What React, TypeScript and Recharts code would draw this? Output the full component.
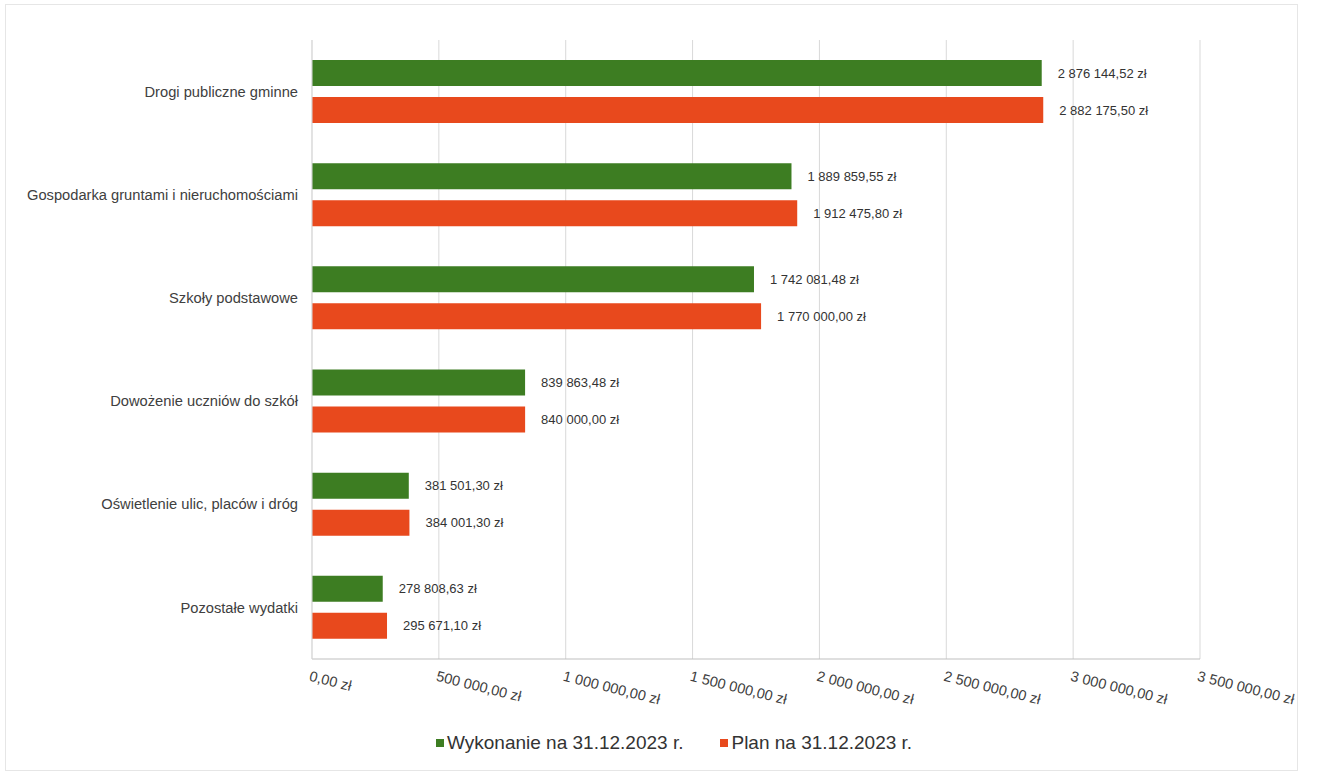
import React from 'react';
import { BarChart, Bar, XAxis, YAxis, CartesianGrid, LabelList } from 'recharts';

const categories = [
  'Drogi publiczne gminne',
  'Gospodarka gruntami i nieruchomościami',
  'Szkoły podstawowe',
  'Dowożenie uczniów do szkół',
  'Oświetlenie ulic, placów i dróg',
  'Pozostałe wydatki',
];
const wykonanie = [2876144.52, 1889859.55, 1742081.48, 839863.48, 381501.3, 278808.63];
const plan = [2882175.5, 1912475.8, 1770000.0, 840000.0, 384001.3, 295671.1];
const xTicks = [0, 500000, 1000000, 1500000, 2000000, 2500000, 3000000, 3500000];
const seriesNames = ['Wykonanie na 31.12.2023 r.', 'Plan na 31.12.2023 r.'];

const GREEN = '#3d7d22';
const RED = '#e8491d';
const FONT = '"Liberation Sans", Arial, sans-serif';

const data = categories.map((name, i) => ({ name, wykonanie: wykonanie[i], plan: plan[i] }));

function fmt(v: number): string {
  const fixed = Math.abs(v).toFixed(2);
  const [intPart, dec] = fixed.split('.');
  const withSep = intPart.replace(/\B(?=(\d{3})+(?!\d))/g, ' ');
  return `${withSep},${dec} zł`;
}

const XTick = (props: any) => {
  const { x, y, payload } = props;
  return (
    <g transform={`translate(${x},${y})`}>
      <text
        x={0}
        y={0}
        dy={14}
        textAnchor="start"
        transform="rotate(14)"
        fill="#404040"
        fontSize={14.5}
        fontFamily={FONT}
      >
        {fmt(payload.value)}
      </text>
    </g>
  );
};

export default function App() {
  return (
    <div style={{ position: 'absolute', left: 0, top: 0, width: 1317, height: 775, background: '#fff' }}>
      <div
        style={{
          position: 'absolute',
          left: 5,
          top: 4,
          width: 1291,
          height: 765,
          border: '1px solid #e6e6e6',
        }}
      />
      <BarChart
        width={1317}
        height={775}
        data={data}
        layout="vertical"
        margin={{ top: 40, right: 117, left: 0, bottom: 56 }}
        barSize={26}
        barGap={11}
      >
        <CartesianGrid horizontal={false} vertical={true} stroke="#d9d9d9" />
        <XAxis
          type="number"
          domain={[0, 3500000]}
          ticks={xTicks}
          height={60}
          tick={<XTick />}
          tickLine={false}
          axisLine={{ stroke: '#bfbfbf' }}
          interval={0}
        />
        <YAxis
          type="category"
          dataKey="name"
          width={312}
          tickLine={false}
          axisLine={{ stroke: '#d9d9d9' }}
          tickSize={6}
          tickMargin={8}
          tick={{ fill: '#404040', fontSize: 14.7, fontFamily: FONT }}
          interval={0}
        />
        <Bar dataKey="wykonanie" name={seriesNames[0]} fill={GREEN} isAnimationActive={false}>
          <LabelList
            dataKey="wykonanie"
            position="right"
            offset={16}
            formatter={(v: any) => fmt(Number(v))}
            style={{ fill: '#333', fontSize: 13, fontFamily: FONT }}
          />
        </Bar>
        <Bar dataKey="plan" name={seriesNames[1]} fill={RED} isAnimationActive={false}>
          <LabelList
            dataKey="plan"
            position="right"
            offset={16}
            formatter={(v: any) => fmt(Number(v))}
            style={{ fill: '#333', fontSize: 13, fontFamily: FONT }}
          />
        </Bar>
      </BarChart>
      <div
        style={{
          position: 'absolute',
          left: 436,
          top: 732,
          display: 'flex',
          alignItems: 'center',
          fontFamily: FONT,
          fontSize: 19,
          color: '#333',
          whiteSpace: 'nowrap',
        }}
      >
        <span style={{ display: 'inline-block', width: 8, height: 8, background: GREEN, marginRight: 3 }} />
        <span>{seriesNames[0]}</span>
        <span style={{ display: 'inline-block', width: 8, height: 8, background: RED, marginLeft: 37, marginRight: 3 }} />
        <span>{seriesNames[1]}</span>
      </div>
    </div>
  );
}
